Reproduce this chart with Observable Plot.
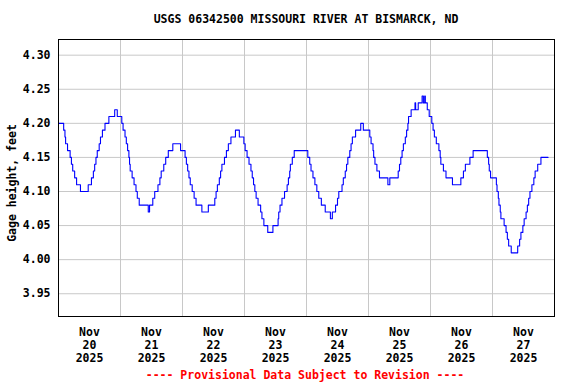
<!DOCTYPE html>
<html>
<head>
<meta charset="utf-8">
<script src="https://cdn.jsdelivr.net/npm/d3@7"></script>
<script src="https://cdn.jsdelivr.net/npm/@observablehq/plot@0.6"></script>
<style>
  body { margin: 0; background: #fff; }
  #wrap { position: relative; width: 576px; height: 384px; background: #fff; overflow: hidden;
          font-family: "DejaVu Sans Mono", monospace; font-weight: bold; }
  #title { position: absolute; top: 12px; left: 306px; transform: translateX(-50%);
           white-space: nowrap; font-size: 11.5px; line-height: 14px; color: #000; z-index: 2; }
  #caption { position: absolute; top: 368px; left: 305px; transform: translateX(-50%);
             white-space: nowrap; font-size: 11.5px; line-height: 14px; color: #ff0000; z-index: 2; }
  #chart { position: absolute; top: 30px; left: 0; z-index: 1; }
</style>
</head>
<body>
<div id="wrap">
  <div id="title"></div>
  <div id="chart"></div>
  <div id="caption"></div>
</div>
<script>
// ---- data (hours after Nov 20 2025 00:00 at which each gage level begins) ----
const stepHours = [
  0, 2, 2.5, 2.75, 3.5, 4.5, 5, 5.5, 6.25, 7, 8.5,
  11.5, 12.75, 13.5, 14, 14.5, 15, 15.75, 16.25, 17, 18, 19.5, 21.75, 22.75,
  24.5, 25, 25.75, 26.25, 26.75, 27.25, 27.5, 27.75, 28.5, 29.25, 30, 30.5, 31.25, 34.75, 35.25,
  36.5, 37.25, 38.5, 39.25, 39.75, 40.75, 41.5, 42.5, 44.25,
  47.25, 49, 49.5, 50, 50.5, 51, 51.75, 52.5, 53.25, 55.5,
  58, 60.5, 61, 61.5, 62.25, 62.75, 63.25, 64.25, 65, 65.75, 66.75, 68.5,
  70, 71.75, 72.25, 73, 73.75, 74.5, 75, 75.5, 76, 76.5, 77.25, 78.25, 78.75, 79.5, 81,
  83, 85, 85.25, 85.75, 86.5, 87.5, 88.5, 89, 89.5, 89.75, 90.5, 91.25,
  96.5, 97.25, 97.75, 98.5, 99.25, 100, 100.75, 101.75, 103.25, 105.25, 106,
  107.25, 108, 108.5, 109.75, 110.25, 111, 111.5, 112, 112.75, 113.25, 113.75, 115, 117, 118,
  120.5, 121, 121.75, 122, 122.5, 123.25, 124.25, 127.5, 128.25,
  131.5, 132, 132.5, 133, 133.5, 134.25, 134.75, 135.25, 135.5, 136.5, 138, 138.25, 139.25,
  140.75, 141.25, 141.75, 142,
  142.75, 143.5, 144.5, 145, 145.5, 146.25, 147.25, 147.75, 148, 149, 150, 152.5,
  155.75, 156.75, 157.5, 159.25, 160.5,
  166, 166.5, 166.75, 167.25, 169.5, 169.75, 170.25, 170.5, 171, 171.25, 172.5, 173.25, 173.75, 174.25, 175.25,
  177.75, 178.5, 179, 179.75, 180.25, 181, 181.5, 182, 182.5, 183.25, 184, 184.5, 185.5, 186.75, 189.5
];
const stepLevels = [
  4.20, 4.19, 4.18, 4.17, 4.16, 4.15, 4.14, 4.13, 4.12, 4.11, 4.10,
  4.11, 4.12, 4.13, 4.14, 4.15, 4.16, 4.17, 4.18, 4.19, 4.20, 4.21, 4.22, 4.21,
  4.20, 4.19, 4.18, 4.17, 4.16, 4.15, 4.14, 4.13, 4.12, 4.11, 4.10, 4.09, 4.08, 4.07, 4.08,
  4.09, 4.10, 4.11, 4.12, 4.13, 4.14, 4.15, 4.16, 4.17,
  4.16, 4.15, 4.14, 4.13, 4.12, 4.11, 4.10, 4.09, 4.08, 4.07,
  4.08, 4.09, 4.10, 4.11, 4.12, 4.13, 4.14, 4.15, 4.16, 4.17, 4.18, 4.19,
  4.18, 4.17, 4.16, 4.15, 4.14, 4.13, 4.12, 4.11, 4.10, 4.09, 4.08, 4.07, 4.06, 4.05, 4.04,
  4.05, 4.06, 4.07, 4.08, 4.09, 4.10, 4.11, 4.12, 4.13, 4.14, 4.15, 4.16,
  4.15, 4.14, 4.13, 4.12, 4.11, 4.10, 4.09, 4.08, 4.07, 4.06, 4.07,
  4.08, 4.09, 4.10, 4.11, 4.12, 4.13, 4.14, 4.15, 4.16, 4.17, 4.18, 4.19, 4.20, 4.19,
  4.18, 4.17, 4.16, 4.15, 4.14, 4.13, 4.12, 4.11, 4.12,
  4.13, 4.14, 4.15, 4.16, 4.17, 4.18, 4.19, 4.20, 4.21, 4.22, 4.23, 4.22, 4.23,
  4.24, 4.23, 4.24, 4.23,
  4.22, 4.21, 4.20, 4.19, 4.18, 4.17, 4.16, 4.15, 4.14, 4.13, 4.12, 4.11,
  4.12, 4.13, 4.14, 4.15, 4.16,
  4.15, 4.14, 4.13, 4.12, 4.11, 4.10, 4.09, 4.08, 4.07, 4.06, 4.05, 4.04, 4.03, 4.02, 4.01,
  4.02, 4.03, 4.04, 4.05, 4.06, 4.07, 4.08, 4.09, 4.10, 4.11, 4.12, 4.13, 4.14, 4.15, 4.15
];
const dayLabels = ["20", "21", "22", "23", "24", "25", "26", "27"];
const monthLabel = "Nov";
const yearLabel = "2025";
const yTicks = [3.95, 4.00, 4.05, 4.10, 4.15, 4.20, 4.25, 4.30];
const titleText = "USGS 06342500 MISSOURI RIVER AT BISMARCK, ND";
const yLabel = "Gage height, feet";
const captionText = "---- Provisional Data Subject to Revision ----";

// ---- build ----
const t0 = Date.UTC(2025, 10, 20);
const hr = 3600e3;
const data = stepHours.map((h, i) => ({ t: new Date(t0 + h * hr), v: stepLevels[i] }));
const noonTicks = dayLabels.map((d, i) => new Date(t0 + (i * 24 + 12) * hr));
const midnights = dayLabels.slice(1).map((d, i) => new Date(t0 + (i + 1) * 24 * hr));

document.getElementById("title").textContent = titleText;
document.getElementById("caption").textContent = captionText;

const font = "DejaVu Sans Mono, monospace";
const chart = Plot.plot({
  width: 576,
  height: 354,
  marginTop: 9,
  marginBottom: 68,
  marginLeft: 58,
  marginRight: 22,
  style: { fontFamily: font, fontWeight: "bold", fontSize: "11.5px", color: "#000", background: "transparent" },
  x: { type: "utc", domain: [new Date(t0), new Date(t0 + 8 * 24 * hr)] },
  y: { domain: [3.9166, 4.323] },
  marks: [
    Plot.gridX(midnights, { stroke: "#c8c8c8", strokeOpacity: 1, strokeWidth: 1 }),
    Plot.gridY(yTicks, { stroke: "#c8c8c8", strokeOpacity: 1, strokeWidth: 1 }),
    Plot.line(data, { x: "t", y: "v", curve: "step-after", stroke: "#0000ff", strokeWidth: 1.1 }),
    Plot.frame({ stroke: "#000", strokeWidth: 1 }),
    Plot.axisY(yTicks, { tickSize: 0, tickPadding: 8, tickFormat: d => d.toFixed(2), label: null, fontSize: 11.5, fontWeight: "bold" }),
    Plot.axisX(noonTicks, {
      tickSize: 0, tickPadding: 10, label: null, lineHeight: 1.13, fontSize: 11.5, fontWeight: "bold",
      tickFormat: d => `${monthLabel}\n${String(d.getUTCDate())}\n${yearLabel}`
    }),
    Plot.text([yLabel], { text: d => d, frameAnchor: "left", dx: -46, dy: 5, rotate: -90,
      textAnchor: "middle", fontSize: 11.5, fontWeight: "bold" })
  ]
});
document.getElementById("chart").appendChild(chart);
</script>
</body>
</html>
